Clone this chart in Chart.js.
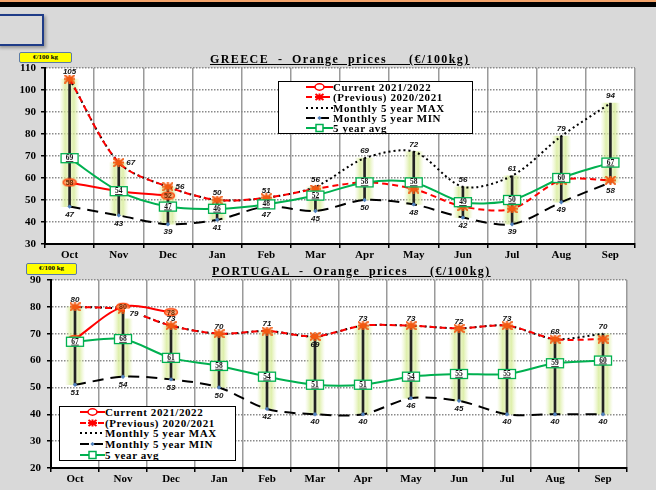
<!DOCTYPE html>
<html><head><meta charset="utf-8">
<script src="https://cdn.jsdelivr.net/npm/chart.js@4.4.1/dist/chart.umd.min.js"></script>
<style>
html,body{margin:0;padding:0;}
body{width:656px;height:490px;background:#d9d9d9;position:relative;overflow:hidden;font-family:"Liberation Serif",serif;}
.bar1{position:absolute;left:0;top:0;width:656px;height:2px;background:#f4a46a;}
.bar2{position:absolute;left:0;top:2px;width:656px;height:5px;background:#000;}
.bluebox{position:absolute;left:-3px;top:14px;width:43px;height:28px;border:2px solid #1f3c88;box-shadow:2px 2px 3px rgba(0,0,0,0.3);}
.unit{position:absolute;background:#ffff00;border:1.5px solid #5a7aa8;border-radius:2px;font:bold 7px "Liberation Serif";text-align:center;box-sizing:border-box;z-index:3;}
.title{position:absolute;font:bold 12px "Liberation Serif";letter-spacing:1.4px;text-decoration:underline;white-space:pre;z-index:3;}
canvas{position:absolute;left:0;}
.legend{position:absolute;background:#fff;border:1.5px solid #000;font:bold 11px "Liberation Serif";letter-spacing:0.6px;z-index:3;}
.row{position:absolute;white-space:nowrap;height:10px;line-height:10px;}
.row svg{position:absolute;top:0;}
.row span{position:absolute;top:0;}
</style>
</head><body>
<div class="bar1"></div><div class="bar2"></div><div class="bluebox"></div>

<div class="unit" style="left:19px;top:52px;width:53px;height:11px;line-height:8px;">€/100 kg</div>
<div class="title" style="left:210px;top:52px;">GREECE  -  Orange  prices     (€/100kg)</div>
<div style="position:absolute;left:0;top:40px;width:656px;height:220px;"><canvas id="c1" width="656" height="220"></canvas></div>
<div class="legend" id="lg1" style="left:278px;top:81px;width:193px;height:51px;"></div>

<div class="unit" style="left:26px;top:263px;width:51px;height:12px;line-height:9px;">€/100 kg</div>
<div class="title" style="left:212px;top:264px;">PORTUGAL  -  Orange  prices     (€/100kg)</div>
<div style="position:absolute;left:0;top:258px;width:656px;height:232px;"><canvas id="c2" width="656" height="232"></canvas></div>
<div class="legend" id="lg2" style="left:59px;top:406px;width:175px;height:53px;"></div>

<script>
const months = ['Oct','Nov','Dec','Jan','Feb','Mar','Apr','May','Jun','Jul','Aug','Sep'];
const legendLabels = ['Current 2021/2022','(Previous)  2020/2021','Monthly 5 year MAX','Monthly 5 year MIN','5 year avg'];

// GREECE
const grCurrent  = [58, 54, 52, null, null, null, null, null, null, null, null, null];
const grPrevious = [105, 67, 56, 50, 51, 55, 58, 55, 47, 46, 59, 59];
const grMax      = [105, 67, 56, 50, 51, 56, 69, 72, 56, 61, 79, 94];
const grMin      = [47, 43, 39, 41, 47, 45, 50, 48, 42, 39, 49, 58];
const grAvg      = [69, 54, 47, 46, 48, 52, 58, 58, 49, 50, 60, 67];
const grYMin = 30, grYMax = 110;

// PORTUGAL
const ptCurrent  = [68, 80, 78, null, null, null, null, null, null, null, null, null];
const ptPrevious = [80, 79, 73, 70, 71, 69, 73, 73, 72, 73, 68, 68];
const ptMax      = [80, 79, 73, 70, 71, 69, 73, 73, 72, 73, 68, 70];
const ptMin      = [51, 54, 53, 50, 42, 40, 40, 46, 45, 40, 40, 40];
const ptAvg      = [67, 68, 61, 58, 54, 51, 51, 54, 55, 55, 59, 60];
const ptYMin = 20, ptYMax = 90;

const RED = '#ff0000', GREEN = '#00b050', ORANGE = '#f25a12';

function mkEllipse(w,h){
  const c=document.createElement('canvas');c.width=w+3;c.height=h+3;
  const x=c.getContext('2d');x.beginPath();
  x.ellipse((w+3)/2,(h+3)/2,w/2,h/2,0,0,Math.PI*2);
  x.fillStyle='rgba(255,150,90,0.75)';x.fill();x.lineWidth=1.5;x.strokeStyle='#ff4a10';x.stroke();
  return c;
}
function mkStar(w,h){
  const c=document.createElement('canvas');c.width=w+2;c.height=h+2;
  const x=c.getContext('2d');x.strokeStyle=ORANGE;x.lineWidth=2;x.lineCap='round';
  x.beginPath();
  x.moveTo(1,1);x.lineTo(w+1,h+1);
  x.moveTo(w+1,1);x.lineTo(1,h+1);
  x.moveTo((w+2)/2,0.5);x.lineTo((w+2)/2,h+1.5);
  x.moveTo(0.5,(h+2)/2);x.lineTo(w+1.5,(h+2)/2);
  x.stroke();
  return c;
}
const ellipseImg = mkEllipse(13,7);
const starImg = mkStar(9,7);

function glow(ctx){
  const ch=ctx.chart; const xs=ch.scales && ch.scales.x;
  if(!xs || ctx.dataIndex==null || !ch.chartArea) return 'rgba(215,235,150,0.5)';
  const x=xs.getPixelForValue(ctx.dataIndex);
  const g=ch.ctx.createLinearGradient(x-10,0,x+10,0);
  g.addColorStop(0,'rgba(225,240,170,0)');
  g.addColorStop(0.28,'rgba(212,234,145,0.75)');
  g.addColorStop(0.5,'rgba(226,241,180,0.65)');
  g.addColorStop(0.72,'rgba(212,234,145,0.75)');
  g.addColorStop(1,'rgba(225,240,170,0)');
  return g;
}

const bgPlugin={id:'bg',beforeDraw(c){const a=c.chartArea;const x=c.ctx;x.save();x.fillStyle='#fff';x.fillRect(a.left,a.top,a.right-a.left,a.bottom-a.top);x.restore();}};

const lblPlugin={id:'lbl',afterDatasetsDraw(chart,args,opts){
  const ctx=chart.ctx; const dsets=chart.data.datasets;
  ['max','min','cur','avg'].forEach(kind=>{
    dsets.forEach((d,di)=>{
      if(d.lbl!==kind) return;
      const meta=chart.getDatasetMeta(di);
      meta.data.forEach((p,i)=>{
        const v=d.data[i]; if(v==null) return;
        const t=String(v);
        ctx.save();
        ctx.textAlign='center';ctx.textBaseline='middle';
        if(kind==='max'||kind==='min'){
          ctx.font='italic bold 8px "Liberation Sans"';
          let pos = kind==='min' ? 'bottom' : ((opts.maxPos||{})[i]||'top');
          let x=p.x,y=p.y;
          if(pos==='top') y-=7; else if(pos==='bottom') y+=8;
          else if(pos==='right') x+=12;
          else if(pos==='rightbelow'){x+=11;y+=4;}
          if(pos==='rightbelow'){ctx.fillStyle='#fff';ctx.fillRect(x-9,y-5,18,10);}
          ctx.fillStyle='#111';
          ctx.fillText(t,x,y);
        } else if(kind==='cur'){
          ctx.font='bold 7px "Liberation Sans"';ctx.fillStyle='#6b2a00';
          ctx.fillText(t,p.x,p.y+0.5);
        } else if(kind==='avg'){
          const w=17,h=9;
          ctx.fillStyle='#fff';ctx.fillRect(p.x-w/2,p.y-h/2,w,h);
          ctx.strokeStyle=GREEN;ctx.lineWidth=1.3;ctx.strokeRect(p.x-w/2,p.y-h/2,w,h);
          ctx.font='bold 7.5px "Liberation Serif"';ctx.fillStyle='#111';
          ctx.fillText(t,p.x,p.y);
          const tw=ctx.measureText(t).width;
          ctx.strokeStyle='#111';ctx.lineWidth=0.8;ctx.beginPath();
          ctx.moveTo(p.x-tw/2,p.y+3.3);ctx.lineTo(p.x+tw/2,p.y+3.3);ctx.stroke();
        }
        ctx.restore();
      });
    });
  });
}};

function makeChart(id, cur, prev, mx, mn, avg, ymin, ymax, L){
  const ranges = mx.map((v,i)=>[mn[i], v]);
  return new Chart(document.getElementById(id), {
    data:{
      labels: months,
      datasets:[
        {type:'bar',data:ranges,grouped:false,barThickness:20,backgroundColor:glow,borderWidth:0,order:20},
        {type:'bar',data:ranges,grouped:false,barThickness:2,backgroundColor:'#222',borderWidth:0,order:19},
        {type:'line',label:legendLabels[3],data:mn,lbl:'min',borderColor:'#000',borderWidth:2,borderDash:[11,7],tension:0.3,
          pointStyle:'rectRot',pointRadius:2.2,pointBackgroundColor:'#4f81bd',pointBorderColor:'#4f81bd',pointBorderWidth:0,order:6},
        {type:'line',label:legendLabels[2],data:mx,lbl:'max',borderColor:'#000',borderWidth:2,borderDash:[2,3],tension:0.3,pointRadius:0,order:5},
        {type:'line',label:legendLabels[1],data:prev,borderColor:RED,borderWidth:2,borderDash:[6,4],tension:0.3,
          pointStyle:starImg,pointRadius:5,order:4},
        {type:'line',label:legendLabels[4],data:avg,lbl:'avg',borderColor:GREEN,borderWidth:2,tension:0.3,pointRadius:0,order:3},
        {type:'line',label:legendLabels[0],data:cur,lbl:'cur',borderColor:RED,borderWidth:2,tension:0.3,
          pointStyle:ellipseImg,pointRadius:6,order:2,spanGaps:false}
      ]
    },
    options:{
      responsive:false,animation:false,
      layout:{padding:{top:L.top,right:L.right,left:0,bottom:0}},
      plugins:{legend:{display:false},tooltip:{enabled:false},lbl:{maxPos:L.maxPos}},
      scales:{
        x:{type:'category',offset:true,
          grid:{offset:true,color:'#9a9a9a',lineWidth:1.5,drawTicks:true,tickLength:4,tickColor:'#000',tickWidth:1.5},
          border:{color:'#000',width:2},
          ticks:{font:{family:'Liberation Serif',size:11,weight:'bold'},color:'#000',padding:1,maxRotation:0},
          afterFit(s){s.height=L.xh;}},
        y:{min:ymin,max:ymax,
          ticks:{stepSize:10,font:{family:'Liberation Serif',size:11,weight:'bold'},color:'#000',padding:L.ypad},
          grid:{color:'#8a8a8a',lineWidth:1.5,tickLength:4,tickColor:'#000',tickWidth:1.5,tickBorderDash:[]},
          border:{color:'#000',width:2,dash:[1.5,1.5]},
          afterFit(s){s.width=L.yw;}}
      }
    },
    plugins:[bgPlugin,lblPlugin]
  });
}

makeChart('c1',grCurrent,grPrevious,grMax,grMin,grAvg,grYMin,grYMax,
  {top:28,right:21,xh:16,yw:45,ypad:5,maxPos:{1:'right',2:'right'}});
makeChart('c2',ptCurrent,ptPrevious,ptMax,ptMin,ptAvg,ptYMin,ptYMax,
  {top:22,right:29,xh:22,yw:51,ypad:6,maxPos:{1:'rightbelow',5:'bottom'}});

function sample(kind,W){
  const m=W/2;
  let s='<svg width="'+W+'" height="10" viewBox="0 0 '+W+' 10">';
  if(kind===0){s+='<line x1="0" y1="5" x2="'+W+'" y2="5" stroke="#f00" stroke-width="2"/><ellipse cx="'+m+'" cy="5" rx="4.5" ry="3.2" fill="#fff" stroke="#f00" stroke-width="1.5"/>';}
  if(kind===1){s+='<line x1="0" y1="5" x2="'+W+'" y2="5" stroke="#f00" stroke-width="2" stroke-dasharray="6,3"/>'+
     '<path d="M'+(m-4)+' 2 L'+(m+4)+' 8 M'+(m+4)+' 2 L'+(m-4)+' 8 M'+m+' 1.5 L'+m+' 8.5 M'+(m-4.5)+' 5 L'+(m+4.5)+' 5" stroke="#f00" stroke-width="2"/>';}
  if(kind===2){s+='<line x1="0" y1="5" x2="'+W+'" y2="5" stroke="#000" stroke-width="2" stroke-dasharray="2,3"/>';}
  if(kind===3){s+='<line x1="0" y1="5" x2="'+W+'" y2="5" stroke="#000" stroke-width="2" stroke-dasharray="9,5"/><path d="M'+m+' 3 L'+(m+2.2)+' 5 L'+m+' 7 L'+(m-2.2)+' 5 Z" fill="#4f81bd"/>';}
  if(kind===4){s+='<line x1="0" y1="5" x2="'+W+'" y2="5" stroke="'+GREEN+'" stroke-width="2"/><rect x="'+(m-3.5)+'" y="1.5" width="7" height="7" fill="#fff" stroke="'+GREEN+'" stroke-width="1.5"/>';}
  return s+'</svg>';
}
function buildLegend(id,rowsY,sx,sw){
  const el=document.getElementById(id);
  let h='';
  legendLabels.forEach((lab,i)=>{
    h+='<div class="row" style="left:0;top:'+(rowsY[i]-5)+'px;width:100%;">'+
       '<span style="left:'+sx+'px;">'+sample(i,sw)+'</span>'+
       '<span style="left:'+(sx+sw)+'px;">'+lab+'</span></div>';
  });
  el.innerHTML=h;
}
buildLegend('lg1',[5,15,26,36,46],27,27);
buildLegend('lg2',[5,16,26,37,48],20,25);
</script>
</body></html>
